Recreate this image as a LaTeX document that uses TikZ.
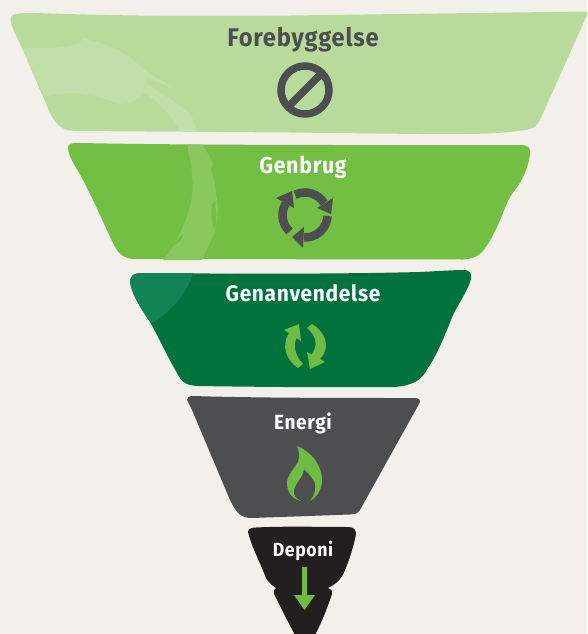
\documentclass[tikz,border=0pt]{standalone}
\usepackage{fontspec}
\setmainfont[FakeStretch=0.93,LetterSpace=3]{Fira Sans}
\definecolor{bgc}{HTML}{F3F0EC}
\definecolor{lvla}{HTML}{B8DB9B}
\definecolor{lvlaw}{HTML}{C1DFA9}
\definecolor{lvlb}{HTML}{73BF44}
\definecolor{lvlbw}{HTML}{88C85F}
\definecolor{lvlc}{HTML}{00733C}
\definecolor{lvlcw}{HTML}{128354}
\definecolor{lvld}{HTML}{4D4E50}
\definecolor{lvle}{HTML}{231F20}
\definecolor{iconc}{HTML}{6FBB44}
\tikzset{
  lbl/.style={anchor=base,inner sep=0pt,font=\bfseries},
  lbldark/.style={lbl,text=lvld},
  lbllight/.style={lbl,text=white},
  ring/.style={line width=8.5pt,draw=lvld},
  head/.style={fill=lvld}
}
\begin{document}
\begin{tikzpicture}[x=1pt,y=1pt,yscale=-1]
\useasboundingbox (0,0) rectangle (587,634);
\fill[bgc] (0,0) rectangle (587,634);
% level 1
\fill[lvla] (10.5,18) .. controls (11,14) and (18,12.5) .. (35,13) .. controls (120,16) and (200,16.5) .. (290,15.5) -- (587,11.5) -- (587,15) -- (540,120) .. controls (536,127) and (533,129) .. (525,130) .. controls (500,134) and (470,134.5) .. (420,134) -- (290,132.5) -- (75,131) .. controls (62,130.5) and (56,125) .. (50,113) -- (22,48) .. controls (16,35) and (10,25) .. (10.5,18) -- cycle;
\fill[lvlaw] (22,48) -- (50,48) .. controls (65,47) and (76,46) .. (80,42) -- (83,38) .. controls (105,44) and (125,50) .. (143,69) -- (173,88) -- (147,78) -- (147,84) -- (167,97) .. controls (178,104) and (188,110) .. (192,117) -- (197,132) -- (180,132) .. controls (172,118) and (165,107) .. (145,93) .. controls (138,100) and (130,104) .. (120,104) .. controls (105,99) and (90,94) .. (72,93) .. controls (62,94) and (52,95) .. (45,97) -- cycle;
% level 2
\fill[lvlb] (68,148) .. controls (68,144) and (71,142.5) .. (80,143) .. controls (200,145.5) and (400,145) .. (520,145) .. controls (528,145) and (531,148) .. (530,153) .. controls (529,165) and (524,177) .. (518,186) .. controls (512,193) and (509,198) .. (505,208) .. controls (498,226) and (490,243) .. (482,252) .. controls (476,258) and (470,259) .. (463,259.5) -- (133,259) .. controls (124,258) and (119,255) .. (114,245) .. controls (104,225) and (96,205) .. (87,188) .. controls (80,172) and (68,158) .. (68,148) -- cycle;
\fill[lvlbw] (188,144.5) -- (203,144.5) -- (213,163) -- (211,170) .. controls (214,178) and (216,186) .. (216,195) .. controls (219,205) and (218,218) .. (215,232) -- (202,260) -- (163,260) .. controls (176,245) and (188,220) .. (192,197) .. controls (193,185) and (192,172) .. (191,163) -- (188,150) -- cycle;
\fill[lvlb] (212,205) .. controls (211,215) and (212,225) .. (215,230) .. controls (217,222) and (216,210) .. (215,201) -- cycle;
\fill[lvlb] (174,245) .. controls (178,244) and (182,240) .. (183,234) .. controls (179,236) and (176,240) .. (174,245) -- cycle;
% level 3
\fill[lvlc] (130,281) .. controls (131,275) and (134,273) .. (142,273) .. controls (250,274) and (340,274) .. (420,272) .. controls (440,271) and (455,270) .. (463,270) .. controls (470,270) and (472,273) .. (471,279) .. controls (469,288) and (458,305) .. (453,315) .. controls (445,335) and (437,355) .. (428,368) .. controls (422,380) and (414,385) .. (395,387) .. controls (330,387.5) and (260,387) .. (197,386) .. controls (188,385) and (184,384) .. (180,378) .. controls (170,362) and (160,340) .. (150,322) .. controls (140,307) and (131,293) .. (130,281) -- cycle;
\fill[lvlcw] (130,281) .. controls (131,275) and (134,273) .. (142,273) -- (193,273) .. controls (188,290) and (175,308) .. (153,323) -- (150,322) .. controls (140,307) and (131,293) .. (130,281) -- cycle;
% level 4
\fill[lvld] (187,400) .. controls (187,397) and (189,396) .. (192,396) .. controls (260,398) and (340,398) .. (415,398) .. controls (420,398) and (421,401) .. (419,404) -- (360,510) .. controls (357,514) and (355,514) .. (350,514.5) -- (252,518) .. controls (240,518) and (236,512) .. (230,500) -- (192,410) -- cycle;
% level 5
\fill[lvle] (248,532) .. controls (248,529) and (251,527.5) .. (256,527.5) .. controls (285,526) and (320,527) .. (348,527) .. controls (354,527) and (356,530) .. (356,534) .. controls (354,545) and (350,558) .. (345,570) .. controls (342,578) and (338,583) .. (328,588) .. controls (332,590) and (333,591) .. (332,594) .. controls (328,606) and (322,622) .. (315,635) -- (295,635) .. controls (288,622) and (280,606) .. (274,594) .. controls (273,591) and (274,589) .. (276,588) .. controls (270,584) and (266,580) .. (264,573) .. controls (258,558) and (251,545) .. (248,532) -- cycle;
% labels
\node[lbldark,font=\bfseries\fontsize{25.5}{25}\selectfont] (t1) at (303,47) {Forebyggelse};
\node[lbllight,font=\bfseries\fontsize{23}{24}\selectfont] (t2) at (303,173) {Genbrug};
\node[lbllight,font=\bfseries\fontsize{22.5}{22}\selectfont] (t3) at (303,301) {Genanvendelse};
\node[lbllight,font=\bfseries\fontsize{20.5}{21}\selectfont] (t4) at (303,429) {Energi};
\node[lbllight,font=\bfseries\fontsize{19}{19}\selectfont] (t5) at (303,556) {Deponi};
% ban icon
\coordinate (ban) at (305,90);
\draw[lvld,line width=7.5pt] (ban) circle (24);
\draw[lvld,line width=7.5pt] (ban) ++(-45:24) -- ++(135:48);
% recycle icon
\coordinate (rc) at (305,215);
\draw[ring] (rc) ++(133:22.5) arc (133:211:22.5);
\draw[ring] (rc) ++(244:22.5) arc (244:328:22.5);
\draw[ring] (rc) ++(2.5:22.5) arc (2.5:92.6:22.5);
\fill[head] (276,198) -- (292,191) -- (294,208) -- cycle;
\fill[head] (333,198) -- (331,214) -- (317,208) -- cycle;
\fill[head] (304,227) -- (303,248) -- (292,237) -- cycle;
% reuse arrows
\fill[iconc] (284,330) -- (299,324) -- (301,341) -- (296.5,338) .. controls (293,345) and (295,356) .. (303,364) -- (298,368) .. controls (286,360) and (281,345) .. (289,333) -- cycle;
\fill[iconc] (307,328) -- (312,324) .. controls (326,332) and (331,348) .. (320,359) -- (325,362) -- (310,369) -- (307,352) -- (311.5,354.5) .. controls (318,346) and (317,336) .. (307,328) -- cycle;
% flame
\fill[iconc] (297,446) .. controls (312,452) and (322,466) .. (322,480) .. controls (322,490) and (316,498) .. (310,501) .. controls (315,495) and (317,488) .. (314,481) .. controls (311,476) and (307,472) .. (304,469) .. controls (303,478) and (295,483) .. (294,490) .. controls (293,495) and (296,499) .. (301,501) .. controls (292,499) and (287,492) .. (287,483) .. controls (287,475) and (295,468) .. (298,462) .. controls (300,456) and (299,450) .. (297,446) -- cycle;
% down arrow
\fill[iconc] (302,567) -- (307,567) -- (307,595) -- (315,595) -- (304.5,610) -- (294,595) -- (302,595) -- cycle;
\end{tikzpicture}
\end{document}
